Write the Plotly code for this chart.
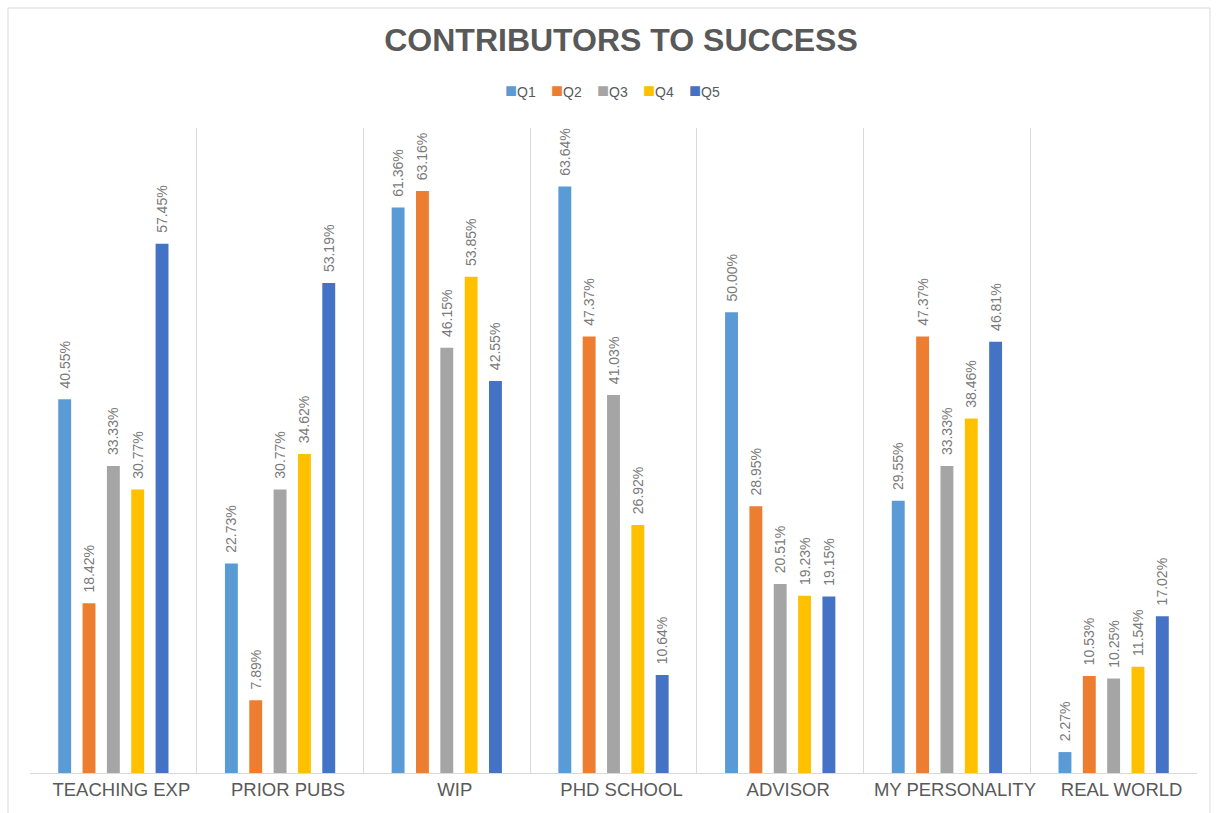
import plotly.graph_objects as go

categories = ["TEACHING EXP", "PRIOR PUBS", "WIP", "PHD SCHOOL", "ADVISOR", "MY PERSONALITY", "REAL WORLD"]
series_names = ["Q1", "Q2", "Q3", "Q4", "Q5"]
q1 = [40.55, 22.73, 61.36, 63.64, 50.00, 29.55, 2.27]
q2 = [18.42, 7.89, 63.16, 47.37, 28.95, 47.37, 10.53]
q3 = [33.33, 30.77, 46.15, 41.03, 20.51, 33.33, 10.25]
q4 = [30.77, 34.62, 53.85, 26.92, 19.23, 38.46, 11.54]
q5 = [57.45, 53.19, 42.55, 10.64, 19.15, 46.81, 17.02]
colors = ["#5B9BD5", "#ED7D31", "#A5A5A5", "#FFC000", "#4472C4"]

fig = go.Figure()
for name, vals, c in zip(series_names, [q1, q2, q3, q4, q5], colors):
    fig.add_trace(go.Bar(
        x=categories, y=vals, name=name, marker_color=c, marker_line_width=0,
        text=[f"&nbsp;&nbsp;{v:.2f}%" for v in vals], textposition="outside", textangle=-90,
        constraintext="none",
        textfont=dict(size=14, color="#7A7A7A", family="Liberation Sans"),
        cliponaxis=False, showlegend=False,
    ))

# legend drawn as text entries
legend_annotations = []
for i, (n, c) in enumerate(zip(series_names, colors)):
    px = 503 + 46 * i
    legend_annotations.append(dict(
        text=f"<span style='color:{c};font-size:20px'>■</span>{n}",
        xref="paper", yref="paper", x=(px - 30) / 1167, y=(773 - 90) / 645,
        xanchor="left", yanchor="middle", showarrow=False,
        font=dict(size=14, color="#595959", family="Liberation Sans")))

fig.update_layout(
    width=1218, height=813,
    margin=dict(l=30, r=21, t=128, b=40, autoexpand=False),
    paper_bgcolor="white", plot_bgcolor="white",
    barmode="group", bargap=0.27, bargroupgap=0.47,
    font=dict(family="Liberation Sans", color="#595959"),
    title=dict(text="<b>CONTRIBUTORS TO SUCCESS</b>", x=621 / 1218, xanchor="center",
               y=1 - 40 / 813, yanchor="middle", yref="container", xref="container",
               font=dict(size=32, color="#595959", family="Liberation Sans")),
    annotations=legend_annotations,
    showlegend=False,
)
fig.update_xaxes(tickson="boundaries", showgrid=True, gridcolor="#D9D9D9", gridwidth=1,
                 showline=True, linecolor="#D9D9D9", linewidth=1, ticks="",
                 tickangle=0, automargin=False, ticklabelshift=8,
                 tickfont=dict(size=18.5, color="#595959"), mirror=False)
fig.update_yaxes(range=[0, 70], visible=False, showgrid=False, automargin=False)

# outer chart border
fig.add_shape(type="rect", xref="paper", yref="paper",
              x0=(8 - 30) / 1167, x1=(1210 - 30) / 1167,
              y0=(773 - 830) / 645, y1=(773 - 8) / 645,
              line=dict(color="#D9D9D9", width=1), fillcolor="rgba(0,0,0,0)")

fig.write_html("out.html")
